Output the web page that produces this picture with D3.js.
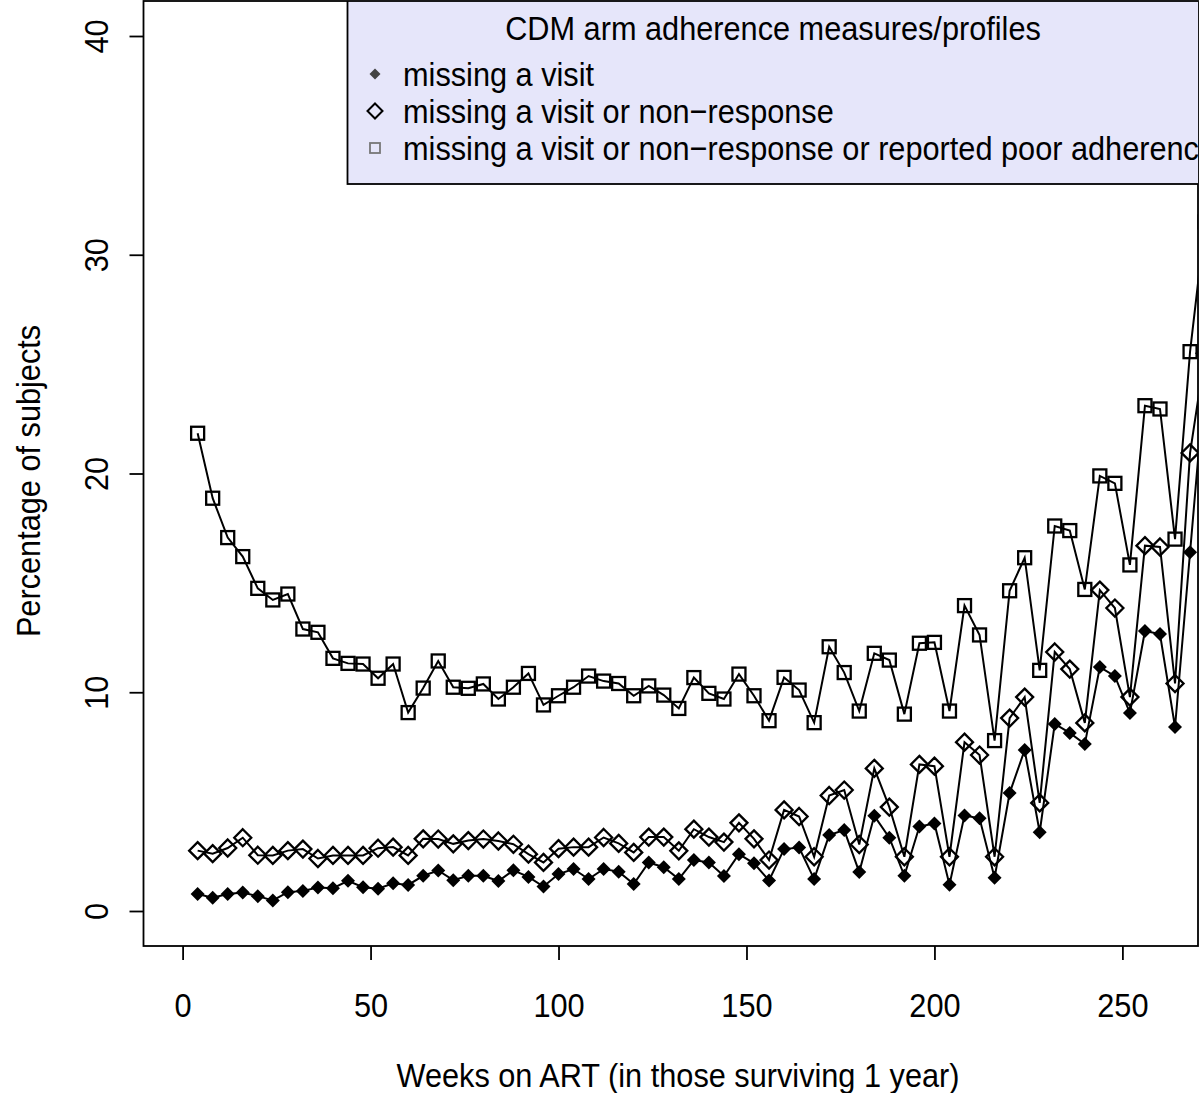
<!DOCTYPE html>
<html><head><meta charset="utf-8">
<script src="https://cdn.jsdelivr.net/npm/d3@7"></script>
<style>body{margin:0;background:#fff}svg{display:block}text{font-family:"Liberation Sans",Arial,sans-serif;fill:#000}</style>
</head><body>
<svg id="c" width="1200" height="1093"></svg>
<script>
const weeks = [4,8,12,16,20,24,28,32,36,40,44,48,52,56,60,64,68,72,76,80,84,88,92,96,100,104,108,112,116,120,124,128,132,136,140,144,148,152,156,160,164,168,172,176,180,184,188,192,196,200,204,208,212,216,220,224,228,232,236,240,244,248,252,256,260,264,268,272];
const missVisit = [0.78,0.61,0.78,0.85,0.68,0.48,0.86,0.92,1.07,1.04,1.38,1.09,1.02,1.27,1.19,1.61,1.85,1.41,1.61,1.61,1.37,1.86,1.56,1.12,1.69,1.92,1.46,1.92,1.80,1.23,2.22,2.00,1.46,2.33,2.22,1.60,2.60,2.18,1.40,2.83,2.90,1.46,3.47,3.70,1.78,4.35,3.35,1.61,3.86,4.00,1.20,4.37,4.24,1.52,5.39,7.36,3.60,8.55,8.14,7.63,11.15,10.74,9.05,12.80,12.66,8.41,16.40,24.4];
const missOrNonResp = [2.76,2.62,2.88,3.35,2.55,2.54,2.76,2.83,2.40,2.54,2.54,2.54,2.87,2.92,2.54,3.30,3.29,3.07,3.22,3.29,3.20,3.05,2.60,2.22,2.85,2.92,2.92,3.36,3.09,2.68,3.38,3.38,2.75,3.74,3.38,3.15,4.03,3.30,2.33,4.62,4.32,2.48,5.28,5.53,3.04,6.52,4.75,2.48,6.70,6.62,2.48,7.72,7.13,2.48,8.82,9.78,4.94,11.84,11.06,8.60,14.67,13.85,9.78,16.70,16.64,10.40,20.94,25.5];
const missOrNonRespOrPoor = [21.84,18.87,17.07,16.20,14.75,14.22,14.49,12.89,12.74,11.55,11.32,11.29,10.64,11.29,9.07,10.19,11.43,10.23,10.18,10.38,9.69,10.23,10.86,9.42,9.84,10.23,10.74,10.51,10.40,9.84,10.29,9.87,9.26,10.67,9.95,9.69,10.83,9.84,8.70,10.68,10.10,8.61,12.08,10.90,9.14,11.78,11.47,9.00,12.24,12.28,9.14,13.96,12.62,7.79,14.64,16.15,11.00,17.60,17.39,14.70,19.89,19.55,15.82,23.10,22.95,17.00,25.57,31.5];
const xTicks = [0,50,100,150,200,250];
const yTicks = [0,10,20,30,40];
const legendTitle = "CDM arm adherence measures/profiles";
const seriesNames = ["missing a visit","missing a visit or non\u2212response","missing a visit or non\u2212response or reported poor adherence"];
const xTitle = "Weeks on ART (in those surviving 1 year)";
const yTitle = "Percentage of subjects";

const svg = d3.select("#c");
const box = {l:143.5, t:1, r:1198, b:946};
const x = d3.scaleLinear().domain([0,250]).range([182.6,1122.4]);
const y = d3.scaleLinear().domain([0,40]).range([911,36]);
const FS = 30.7, SY = 1.1;

svg.append("defs").append("clipPath").attr("id","clip")
  .append("rect").attr("x",box.l).attr("y",box.t).attr("width",box.r-box.l).attr("height",box.b-box.t);

const g = svg.append("g").attr("clip-path","url(#clip)");
const line = d3.line().x((d,i)=>x(weeks[i])).y(d=>y(d));
function diamondPath(r){return `M0,${-r}L${r},0L0,${r}L${-r},0Z`;}

g.append("path").datum(missOrNonRespOrPoor).attr("d",line).attr("fill","none").attr("stroke","#000").attr("stroke-width",2);
g.selectAll(".sq").data(missOrNonRespOrPoor).join("rect").attr("class","sq")
  .attr("x",(d,i)=>x(weeks[i])-6.5).attr("y",d=>y(d)-6.5).attr("width",13).attr("height",13)
  .attr("fill","none").attr("stroke","#000").attr("stroke-width",2.3);
g.append("path").datum(missOrNonResp).attr("d",line).attr("fill","none").attr("stroke","#000").attr("stroke-width",2);
g.selectAll(".od").data(missOrNonResp).join("path").attr("class","od")
  .attr("transform",(d,i)=>`translate(${x(weeks[i])},${y(d)})`).attr("d",diamondPath(8.5))
  .attr("fill","none").attr("stroke","#000").attr("stroke-width",2.3);
g.append("path").datum(missVisit).attr("d",line).attr("fill","none").attr("stroke","#000").attr("stroke-width",2);
g.selectAll(".fd").data(missVisit).join("path").attr("class","fd")
  .attr("transform",(d,i)=>`translate(${x(weeks[i])},${y(d)})`).attr("d",diamondPath(7))
  .attr("fill","#000").attr("stroke","none");

svg.append("rect").attr("x",box.l).attr("y",box.t).attr("width",box.r-box.l).attr("height",box.b-box.t)
  .attr("fill","none").attr("stroke","#000").attr("stroke-width",1.8);

const xAxis = svg.append("g").attr("transform",`translate(0,${box.b})`)
  .call(d3.axisBottom(x).tickValues(xTicks).tickSize(14).tickFormat(d3.format("d")));
const yAxis = svg.append("g").attr("transform",`translate(${box.l},0)`)
  .call(d3.axisLeft(y).tickValues(yTicks).tickSize(14).tickFormat(d3.format("d")));
[xAxis,yAxis].forEach(a=>{a.select(".domain").remove();a.selectAll("line").attr("stroke","#000").attr("stroke-width",1.8);
  a.selectAll("text").attr("font-size",FS).attr("font-family","Liberation Sans, Arial, sans-serif").attr("fill","#000")
   .attr("x",0).attr("y",0).attr("dy","0.36em").attr("text-anchor","middle");});
xAxis.selectAll("text").attr("transform",`translate(0,59) scale(1,${SY})`);
yAxis.selectAll("text").attr("transform",`translate(-48,0) rotate(-90) scale(1,${SY})`);

function label(txt, tr, anchor){
  return svg.append("text").attr("transform",tr+` scale(1,${SY})`).attr("dy","0.36em")
    .attr("text-anchor",anchor||"middle").attr("font-size",FS).text(txt);
}
label(xTitle,"translate(678,1075)");
label(yTitle,"translate(28,481) rotate(-90)");

const lg = svg.append("g").attr("clip-path","url(#clip)");
lg.append("rect").attr("x",347.5).attr("y",box.t).attr("width",900).attr("height",183)
  .attr("fill","#E6E6FA").attr("stroke","#000").attr("stroke-width",1.8);
lg.append("text").attr("transform",`translate(773,28) scale(1,${SY})`).attr("dy","0.36em").attr("text-anchor","middle").attr("font-size",FS).text(legendTitle);
const rows = [74,111,148];
lg.selectAll(".lt").data(seriesNames).join("text").attr("class","lt")
  .attr("transform",(d,i)=>`translate(403,${rows[i]}) scale(1,${SY})`).attr("dy","0.36em").attr("font-size",FS).text(d=>d);
lg.append("path").attr("transform",`translate(375,${rows[0]})`).attr("d",diamondPath(5.5)).attr("fill","#444");
lg.append("path").attr("transform",`translate(375,${rows[1]})`).attr("d",diamondPath(7.5)).attr("fill","none").attr("stroke","#000").attr("stroke-width",2);
lg.append("rect").attr("x",370).attr("y",rows[2]-5).attr("width",10).attr("height",10).attr("fill","none").attr("stroke","#777").attr("stroke-width",1.8);
</script>
</body></html>
